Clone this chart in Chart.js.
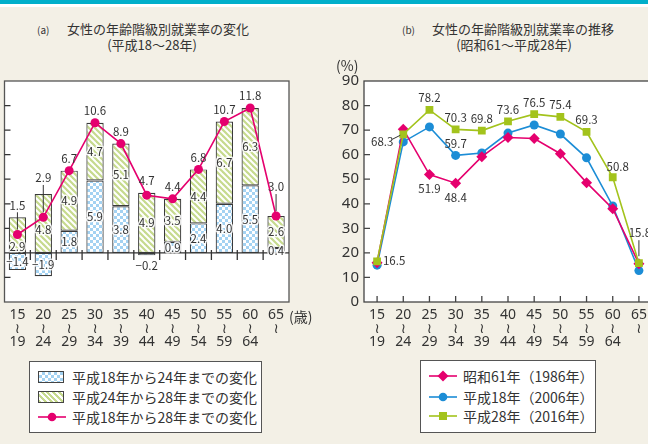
<!DOCTYPE html>
<html lang="ja">
<head>
<meta charset="utf-8">
<script src="https://cdn.jsdelivr.net/npm/chart.js@4.4.1/dist/chart.umd.min.js"></script>
<style>
  html, body { margin: 0; padding: 0; }
  body {
    width: 648px; height: 444px; overflow: hidden; position: relative;
    background: #f3f0e6; color: #333;
    font-family: "Noto Sans CJK JP", "Noto Sans", sans-serif;
  }
  .topbar { position: absolute; left: 0; top: 0; width: 648px; height: 4px; background: #00afca; }
  .topgap { position: absolute; left: 0; top: 4px; width: 648px; height: 3px; background: #fff; }
  .title { position: absolute; font-size: 13px; line-height: 16px; white-space: nowrap; }
  .title small { font-size: 10px; display: inline-block; width: 30px; }
  .unit { position: absolute; font-size: 14px; line-height: 16px; white-space: nowrap; }
  canvas { position: absolute; top: 0; }
  .legend { position: absolute; background: #fff; border: 1px solid #555; box-sizing: border-box; }
  .legend .row { position: absolute; height: 20px; line-height: 20px; font-size: 14px; white-space: nowrap; }
  .legend .key { position: absolute; }
  .legend .txt { position: absolute; }
  .swatch { width: 24px; height: 10px; border: 1px solid #444; }
  .checker {
    background-color: #fff;
    background-image: conic-gradient(#a3d2f2 25%, #fff 0 50%, #a3d2f2 0 75%, #fff 0);
    background-size: 6px 6px;
  }
  .stripe {
    background: repeating-linear-gradient(45deg, #c6da8e 0 2px, #fff 2px 4px);
  }
</style>
</head>
<body>
<div class="topbar"></div>
<div class="topgap"></div>

<div class="title" style="left:37px; top:21px;"><small>(a)</small>女性の年齢階級別就業率の変化</div>
<div class="title" style="left:52px; top:37px; width:200px; text-align:center;">(平成18〜28年)</div>
<div class="title" style="left:402px; top:21px;"><small>(b)</small>女性の年齢階級別就業率の推移</div>
<div class="title" style="left:414px; top:37px; width:200px; text-align:center;">(昭和61〜平成28年)</div>

<canvas id="chartA" width="330" height="360" style="left:0;"></canvas>
<canvas id="chartB" width="330" height="360" style="left:330px;"></canvas>

<div class="unit" style="left:289px; top:308px;">(歳)</div>
<div class="unit" style="left:336px; top:57px;">(%)</div>

<div class="legend" id="legendA" style="left:29px; top:361px; width:233px; height:72px;"></div>
<div class="legend" id="legendB" style="left:420px; top:360px; width:176px; height:73px;"></div>

<script>
// age groups (shared by both charts)
const ageLabels = [
  ['15', '≀', '19'], ['20', '≀', '24'], ['25', '≀', '29'], ['30', '≀', '34'],
  ['35', '≀', '39'], ['40', '≀', '44'], ['45', '≀', '49'], ['50', '≀', '54'],
  ['55', '≀', '59'], ['60', '≀', '64'], ['65', '≀']
];

// (a) change in employment rate, points
const change0612 = [-1.4, -1.9, 1.8, 5.9, 3.8, -0.2, 0.9, 2.4, 4.0, 5.5, 0.4];
const change1216 = [2.9, 4.8, 4.9, 4.7, 5.1, 4.9, 3.5, 4.4, 6.7, 6.3, 2.6];
const change0616 = [1.5, 2.9, 6.7, 10.6, 8.9, 4.7, 4.4, 6.8, 10.7, 11.8, 3.0];
const changeTicks = [-4, -2, 0, 2, 4, 6, 8, 10, 12, 14];
const namesA = ['平成18年から24年までの変化', '平成24年から28年までの変化', '平成18年から28年までの変化'];

// (b) employment rate, %
const rate1986 = [16.0, 70.4, 51.9, 48.4, 59.2, 67.0, 66.6, 60.4, 48.6, 38.0, 15.6];
const rate2006 = [15.0, 65.2, 71.3, 59.7, 60.7, 68.8, 72.1, 68.4, 58.7, 39.1, 12.8];
const rate2016 = [16.5, 68.3, 78.2, 70.3, 69.8, 73.6, 76.5, 75.4, 69.3, 50.8, 15.8];
const rateTicks = [0, 10, 20, 30, 40, 50, 60, 70, 80, 90];
const namesB = ['昭和61年（1986年）', '平成18年（2006年）', '平成28年（2016年）'];

const PINK = '#e5006e';
const BLUE = '#1c8dd6';
const GREEN = '#a3c31c';
const INK = '#333';
const FONT = '"Noto Sans CJK JP", "Noto Sans", sans-serif';
const TICK_FONT = '"Noto Sans", "DejaVu Sans", "Noto Sans CJK JP", sans-serif';

Chart.defaults.font.family = FONT;
Chart.defaults.color = INK;

function checkerPattern() {
  const c = document.createElement('canvas');
  c.width = 6; c.height = 6;
  const g = c.getContext('2d');
  g.fillStyle = '#fff';
  g.fillRect(0, 0, 6, 6);
  g.fillStyle = '#a3d2f2';
  g.fillRect(0, 0, 3, 3);
  g.fillRect(3, 3, 3, 3);
  return g.createPattern(c, 'repeat');
}

function stripePattern() {
  const s = 6;
  const c = document.createElement('canvas');
  c.width = s; c.height = s;
  const g = c.getContext('2d');
  g.fillStyle = '#c6da8e';
  g.fillRect(0, 0, s, s);
  g.strokeStyle = '#fff';
  g.lineWidth = 2;
  for (const o of [-s, 0, s]) {
    g.beginPath();
    g.moveTo(o - 1, -1);
    g.lineTo(o + s + 1, s + 1);
    g.stroke();
  }
  return g.createPattern(c, 'repeat');
}

const fmt = v => (v < 0 ? '−' : '') + Math.abs(v).toFixed(1);

function haloText(ctx, text, x, y) {
  ctx.save();
  ctx.strokeStyle = 'rgba(255,255,255,0.85)';
  ctx.lineWidth = 3;
  ctx.lineJoin = 'round';
  ctx.strokeText(text, x, y);
  ctx.restore();
  ctx.fillText(text, x, y);
}

function xAxis() {
  return {
    offset: true,
    grid: { display: false, drawTicks: false },
    border: { display: false },
    ticks: {
      autoSkip: false, maxRotation: 0, padding: 7, color: INK,
      font: { family: TICK_FONT, size: 14, lineHeight: 0.93 }
    },
    afterFit: s => { s.height = 50; }
  };
}

// ---------- (a) ----------
const panelA = {
  id: 'panelA',
  beforeDatasetsDraw(chart) {
    const { ctx, chartArea: a } = chart;
    const x = chart.scales.x, y = chart.scales.y;
    ctx.save();
    ctx.fillStyle = '#fff';
    ctx.fillRect(a.left, a.top, a.width, a.height);
    ctx.strokeStyle = '#555';
    ctx.lineWidth = 1.3;
    ctx.strokeRect(a.left, a.top, a.width, a.height);

    const y0 = y.getPixelForValue(0);
    ctx.strokeStyle = INK;
    ctx.beginPath();
    ctx.moveTo(a.left, y0);
    ctx.lineTo(a.right, y0);
    changeTicks.forEach(t => {
      if (t === 0 || t === y.min || t === y.max) return;
      const py = y.getPixelForValue(t);
      ctx.moveTo(a.left, py);
      ctx.lineTo(a.left + 6, py);
    });
    for (let i = 1; i < ageLabels.length; i++) {
      const px = (x.getPixelForValue(i - 1) + x.getPixelForValue(i)) / 2;
      ctx.moveTo(px, y0 - 3);
      ctx.lineTo(px, y0 + 7);
    }
    ctx.stroke();
    ctx.restore();
  },
  afterDatasetsDraw(chart) {
    const { ctx } = chart;
    const blue = chart.getDatasetMeta(0).data;
    const green = chart.getDatasetMeta(1).data;
    const pts = chart.getDatasetMeta(2).data;
    ctx.save();
    ctx.font = '11.5px ' + FONT;
    ctx.textAlign = 'center';
    ctx.textBaseline = 'middle';
    ctx.fillStyle = INK;
    ctx.strokeStyle = INK;
    ctx.lineWidth = 1;

    change0612.forEach((v, i) => {
      const b = blue[i];
      if (v < 0 && Math.abs(b.y - b.base) < 8) {
        ctx.fillText(fmt(v), b.x, b.y + 10);
      } else {
        haloText(ctx, fmt(v), b.x, (b.y + b.base) / 2);
      }
    });

    change1216.forEach((v, i) => {
      const b = green[i];
      let ty = (b.y + b.base) / 2;
      if (Math.abs(ty - pts[i].y) < 12) ty = pts[i].y + 12;
      haloText(ctx, fmt(v), b.x, ty);
    });

    change0616.forEach((v, i) => {
      const p = pts[i];
      const top = green[i].y;
      const lift = i === ageLabels.length - 1 ? 17 : (i === 1 ? 4 : 0);
      const ty = Math.min(p.y, top) - 12 - lift;
      ctx.fillText(fmt(v), p.x, ty);
      if (p.y - ty > 24) {
        ctx.beginPath();
        ctx.moveTo(p.x, ty + 7);
        ctx.lineTo(p.x, p.y - 5);
        ctx.stroke();
      }
    });
    ctx.restore();
  }
};

new Chart(document.getElementById('chartA'), {
  data: {
    labels: ageLabels,
    datasets: [
      {
        type: 'bar', label: namesA[0], data: change0612, stack: 'bars', order: 1,
        backgroundColor: checkerPattern(), borderColor: '#3a3a3a', borderWidth: 1.2,
        borderSkipped: false, barPercentage: 0.67, categoryPercentage: 1
      },
      {
        type: 'bar', label: namesA[1], data: change1216, stack: 'bars', order: 1,
        backgroundColor: stripePattern(), borderColor: '#3a3a3a', borderWidth: 1.2,
        borderSkipped: false, barPercentage: 0.67, categoryPercentage: 1
      },
      {
        type: 'line', label: namesA[2], data: change0616, stack: 'line', order: 0,
        borderColor: PINK, backgroundColor: PINK, borderWidth: 1.6,
        pointRadius: 4.5, pointBorderWidth: 0, tension: 0
      }
    ]
  },
  options: {
    responsive: false,
    animation: false,
    layout: { padding: { top: 81, left: 2, right: 41, bottom: 8 } },
    plugins: { legend: { display: false }, tooltip: { enabled: false } },
    scales: {
      x: Object.assign(xAxis(), { stacked: true }),
      y: { display: false, stacked: true, min: changeTicks[0], max: changeTicks[changeTicks.length - 1] }
    }
  },
  plugins: [panelA]
});

// ---------- (b) ----------
const tagPlan = [
  { ds: 0, idx: [2, 3], dx: 0, dy: 14 },
  { ds: 1, idx: [3], dx: 0, dy: -12 },
  { ds: 2, idx: [2, 3, 4, 5, 6, 7, 8], dx: 0, dy: -12 },
  { ds: 2, idx: [0], dx: 17, dy: -1 },
  { ds: 2, idx: [1], dx: -21, dy: 7, lead: [-11, 5, -3, 1] },
  { ds: 2, idx: [9], dx: 5, dy: -11 },
  { ds: 2, idx: [10], dx: 1, dy: -31, lead: [0, -23, 0, -7] }
];
const seriesB = [rate1986, rate2006, rate2016];

const panelB = {
  id: 'panelB',
  beforeDatasetsDraw(chart) {
    const { ctx, chartArea: a } = chart;
    const x = chart.scales.x, y = chart.scales.y;
    ctx.save();
    ctx.fillStyle = '#fff';
    ctx.fillRect(a.left, a.top, a.width, a.height);
    ctx.strokeStyle = '#444';
    ctx.lineWidth = 1.3;
    ctx.strokeRect(a.left, a.top, a.width, a.height);
    ctx.beginPath();
    rateTicks.forEach(t => {
      if (t === y.min || t === y.max) return;
      const py = y.getPixelForValue(t);
      ctx.moveTo(a.left, py);
      ctx.lineTo(a.left + 6, py);
    });
    ageLabels.forEach((_, i) => {
      const px = x.getPixelForValue(i);
      ctx.moveTo(px, a.bottom);
      ctx.lineTo(px, a.bottom - 6);
    });
    ctx.stroke();
    ctx.restore();
  },
  afterDatasetsDraw(chart) {
    const { ctx } = chart;
    ctx.save();
    ctx.font = '11.5px ' + FONT;
    ctx.textAlign = 'center';
    ctx.textBaseline = 'middle';
    ctx.fillStyle = INK;
    ctx.strokeStyle = INK;
    ctx.lineWidth = 1;
    tagPlan.forEach(t => {
      const pts = chart.getDatasetMeta(t.ds).data;
      t.idx.forEach(i => {
        const p = pts[i];
        ctx.fillText(seriesB[t.ds][i].toFixed(1), p.x + t.dx, p.y + t.dy);
        if (t.lead) {
          ctx.beginPath();
          ctx.moveTo(p.x + t.lead[0], p.y + t.lead[1]);
          ctx.lineTo(p.x + t.lead[2], p.y + t.lead[3]);
          ctx.stroke();
        }
      });
    });
    ctx.restore();
  }
};

const lineStyle = (label, data, color, shape, radius, order) => ({
  label, data, order,
  borderColor: color, backgroundColor: color, borderWidth: 1.6,
  pointStyle: shape, pointRadius: radius, pointBorderWidth: 0, tension: 0
});

new Chart(document.getElementById('chartB'), {
  type: 'line',
  data: {
    labels: ageLabels,
    datasets: [
      lineStyle(namesB[0], rate1986, PINK, 'rectRot', 5.5, 1),
      lineStyle(namesB[1], rate2006, BLUE, 'circle', 4.5, 2),
      lineStyle(namesB[2], rate2016, GREEN, 'rect', 5.5, 0)
    ]
  },
  options: {
    responsive: false,
    animation: false,
    layout: { padding: { top: 81, left: 0, right: 8, bottom: 8 } },
    plugins: { legend: { display: false }, tooltip: { enabled: false } },
    scales: {
      x: xAxis(),
      y: {
        min: rateTicks[0], max: rateTicks[rateTicks.length - 1],
        grid: { display: false, drawTicks: false },
        border: { display: false },
        ticks: { padding: 5, color: INK, font: { family: TICK_FONT, size: 15 } },
        afterBuildTicks: s => { s.ticks = rateTicks.map(v => ({ value: v })); },
        afterFit: s => { s.width = 34; }
      }
    }
  },
  plugins: [panelB]
});

// ---------- legends ----------
function addRow(box, top, keyHtml, text) {
  const row = document.createElement('div');
  row.className = 'row';
  row.style.left = '0px';
  row.style.top = top + 'px';
  row.innerHTML = keyHtml + '<span class="txt" style="left:42px;">' + text + '</span>';
  box.appendChild(row);
}

function lineKey(color, marker) {
  return '<svg class="key" style="left:8px; top:4px;" width="28" height="12">' +
    '<line x1="0" y1="6" x2="28" y2="6" stroke="' + color + '" stroke-width="1.6"/>' +
    marker + '</svg>';
}

const legendA = document.getElementById('legendA');
addRow(legendA, 5, '<div class="key swatch checker" style="left:8px; top:4px;"></div>', namesA[0]);
addRow(legendA, 25, '<div class="key swatch stripe" style="left:8px; top:4px;"></div>', namesA[1]);
addRow(legendA, 45, lineKey(PINK, '<circle cx="14" cy="6" r="4.3" fill="' + PINK + '"/>'), namesA[2]);

const legendB = document.getElementById('legendB');
addRow(legendB, 5, lineKey(PINK, '<polygon points="14,0.5 19.5,6 14,11.5 8.5,6" fill="' + PINK + '"/>'), namesB[0]);
addRow(legendB, 26, lineKey(BLUE, '<circle cx="14" cy="6" r="4.3" fill="' + BLUE + '"/>'), namesB[1]);
addRow(legendB, 45, lineKey(GREEN, '<rect x="10" y="2" width="8" height="8" fill="' + GREEN + '"/>'), namesB[2]);
</script>
</body>
</html>
